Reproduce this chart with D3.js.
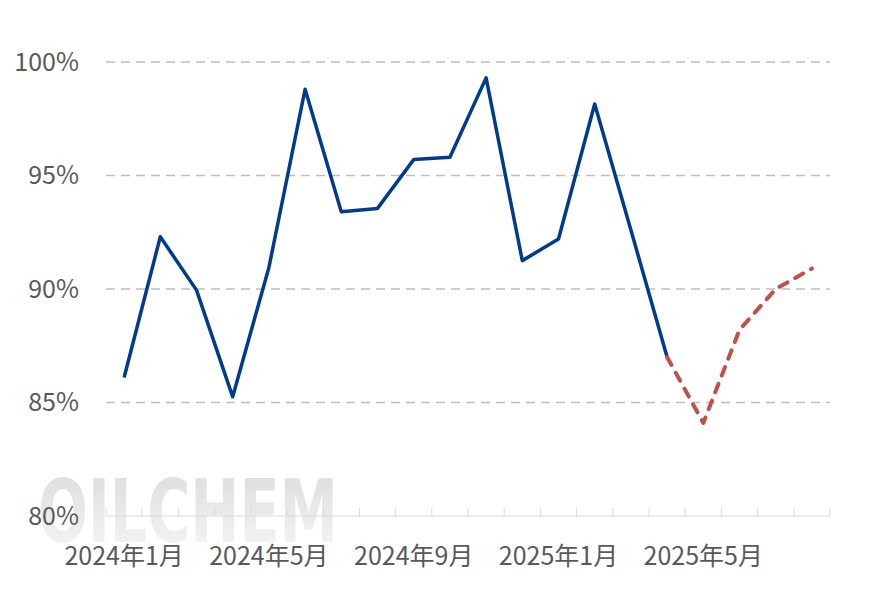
<!DOCTYPE html>
<html><head><meta charset="utf-8">
<script src="https://cdn.jsdelivr.net/npm/d3@7"></script>
<style>body{margin:0;background:#fff}svg{display:block}</style>
</head><body>
<svg id="c" width="887" height="591"></svg>
<script>
const months = ["2024年1月","2024年2月","2024年3月","2024年4月","2024年5月","2024年6月","2024年7月","2024年8月","2024年9月","2024年10月","2024年11月","2024年12月","2025年1月","2025年2月","2025年3月","2025年4月","2025年5月","2025年6月","2025年7月","2025年8月"];
const actual = [86.1,92.3,89.95,85.25,90.95,98.8,93.4,93.55,95.7,95.8,99.3,91.25,92.2,98.15,92.6,87.0,null,null,null,null];
const forecast = [null,null,null,null,null,null,null,null,null,null,null,null,null,null,null,87.0,84.1,88.2,90.0,90.9];
const yTicks = [80,85,90,95,100];
const xLabelEvery = 4;

const svg = d3.select("#c");
const m = {l:106, r:57, t:62, b:75};
const W = 887, H = 591;
const x = d3.scaleBand().domain(months).range([m.l, W - m.r]);
const y = d3.scaleLinear().domain([80,100]).range([H - m.b, m.t]);
const font = "'Noto Sans CJK SC','Microsoft YaHei',sans-serif";

// watermark
const defs = svg.append("defs");
const g = defs.append("linearGradient").attr("id","wm").attr("x1",0).attr("y1",0).attr("x2",0).attr("y2",1);
g.append("stop").attr("offset","0%").attr("stop-color","#d2d2d2");
g.append("stop").attr("offset","100%").attr("stop-color","#f6f6f6");
svg.append("text").attr("x",38).attr("y",542).attr("textLength",300).attr("lengthAdjust","spacingAndGlyphs")
  .attr("font-family","'DejaVu Sans',sans-serif").attr("font-weight","bold").attr("font-size",88)
  .attr("fill","url(#wm)").attr("opacity",0.8).text("OILCHEM");

// gridlines
svg.append("g").selectAll("line").data(yTicks.filter(d=>d>80)).join("line")
  .attr("x1",m.l).attr("x2",W-m.r).attr("y1",d=>y(d)).attr("y2",d=>y(d))
  .attr("stroke","#bfbfbf").attr("stroke-width",1.5).attr("stroke-dasharray","9,6");

// y labels
svg.append("g").selectAll("text").data(yTicks).join("text")
  .attr("x",79).attr("y",d=>y(d)).attr("dy","0.35em").attr("text-anchor","end")
  .attr("font-family",font).attr("font-size",25).attr("fill","#595959")
  .text(d=>d+"%");

// x axis
const ax = svg.append("g").attr("transform",`translate(0,${y(80)})`);
ax.append("line").attr("x1",m.l).attr("x2",W-m.r).attr("stroke","#d9d9d9").attr("stroke-width",1);
const bounds = months.map(d=>x(d)).concat([x(months[months.length-1])+x.bandwidth()]);
ax.selectAll("line.tk").data(bounds).join("line").attr("class","tk")
  .attr("x1",d=>d).attr("x2",d=>d).attr("y1",0).attr("y2",-8).attr("stroke","#d9d9d9");
ax.selectAll("text").data(months.filter((d,i)=>i%xLabelEvery===0)).join("text")
  .attr("x",d=>x(d)+x.bandwidth()/2).attr("y",49).attr("text-anchor","middle")
  .attr("font-family",font).attr("font-size",25).attr("fill","#595959").text(d=>d);

// lines
const line = d3.line().defined(d=>d.v!=null).x(d=>x(d.m)+x.bandwidth()/2).y(d=>y(d.v));
const actualData = months.map((mm,i)=>({m:mm,v:actual[i]}));
const fcData = months.map((mm,i)=>({m:mm,v:forecast[i]}));
svg.append("path").datum(actualData).attr("d",line).attr("fill","none")
  .attr("stroke","#003b8e").attr("stroke-width",3.5).attr("stroke-linejoin","round");
svg.append("path").datum(fcData).attr("d",line).attr("fill","none")
  .attr("stroke","#c0504d").attr("stroke-width",4).attr("stroke-dasharray","9,9").attr("stroke-linecap","round").attr("stroke-linejoin","round");
</script>
</body></html>
